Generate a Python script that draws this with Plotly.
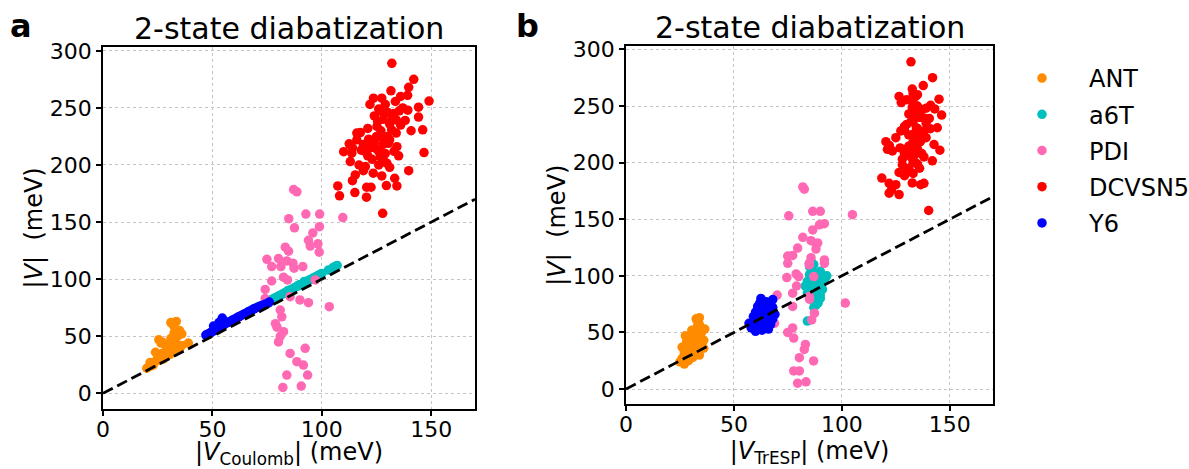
import plotly.graph_objects as go

FONT = "DejaVu Sans"

series_names = ["ANT", "a6T", "PDI", "DCVSN5", "Y6"]
series_colors = ["#FF8C00", "#00BFBF", "#FF69B4", "#FF0000", "#0000FF"]

# ---- ANT ----
ant_v = [22, 24, 25, 27, 28, 29, 30, 31, 32, 33, 34, 35, 36, 37, 38, 39, 40, 41, 42, 43,
         44, 45, 46, 47, 48, 50, 52, 53, 55, 57, 60, 62, 63, 44, 36]
ant_coulomb = [20, 22, 23, 21.5, 24, 26, 27.5, 25, 28, 29, 30.5, 27, 31, 33, 32, 35, 29, 34, 36, 30,
               39, 27, 33, 25.5, 31, 34, 36, 32.5, 35, 33, 32, 31, 33.5, 26.5, 24]
ant_tresp = [27, 25, 29, 26, 31, 28, 34, 30, 27, 33, 29, 31, 36, 26, 32, 35, 30, 28, 33, 36,
             31, 34, 29, 27.5, 32, 35, 30.5, 36.5, 33, 34, 33, 32.5, 34, 30, 33]

# ---- a6T ----
a6t_v = [60, 72, 74, 76, 79, 80, 80, 82, 83, 84, 85, 86, 87, 88, 89, 90, 90, 91, 92, 93,
         94, 95, 95, 96, 97, 98, 98, 99, 100, 101, 102, 103, 104, 105, 108, 110, 111, 112]
a6t_coulomb = [55, 67, 69, 71, 74, 75, 75.5, 77, 78, 79, 80, 81, 82, 83, 84, 84.5, 85, 86, 87, 88,
               89, 89.5, 90, 91, 92, 92, 93, 94, 95, 96, 97, 98, 99, 100, 103, 105, 106, 107]
a6t_tresp = [84, 87, 88, 89, 86, 88, 90, 85, 90, 87, 84, 89, 86, 91, 85, 88, 84.5, 83, 87, 90,
             86, 84, 91, 88, 92, 86, 85.5, 89, 93, 85, 88, 87, 90, 86, 85, 87, 85, 86]

# ---- PDI ----
pdi_v = [178.5, 176.5, 157, 157, 153, 154, 146, 145, 140.5, 134, 131, 129, 128, 124.5, 123.6, 117.4,
         118, 116, 114, 111, 111, 109.6, 111, 98.4, 101.7, 99.3, 91, 84.7, 81.8, 79.4, 75.9, 99.3,
         73, 67, 61, 54, 83, 58, 45, 50, 39.4, 35, 27.7, 24.8, 16, 16, 5.2, 6.4]
pdi_coulomb = [87.1, 88.6, 92.7, 99.0, 84.9, 109.6, 98.9, 87.5, 95.9, 93.9, 98.2, 94.7, 83.3, 84.8, 98.8, 74.9,
               80.2, 84.0, 86.8, 77.1, 81.3, 87.3, 91.3, 77.1, 82.5, 84.3, 74.1, 85.5, 90.0, 93.9, 103.4, 97.0,
               81.0, 81.7, 78.8, 82.5, 74.1, 79.5, 80.2, 81.0, 92.4, 85.5, 88.6, 91.6, 93.5, 84.0, 82.2, 90.6]
pdi_tresp = [81.9, 82.6, 86.5, 90.0, 75.4, 104.9, 91.9, 89.6, 86.5, 81.9, 85.7, 88.8, 88.0, 79.5, 88.0, 74.9,
             77.2, 85.7, 91.9, 74.9, 84.9, 84.9, 91.9, 74.5, 78.8, 80.0, 79.0, 77.2, 84.9, 85.0, 101.6, 87.0,
             77.2, 87.3, 86.0, 77.2, 70.0, 68.8, 77.7, 74.9, 83.1, 82.6, 80.3, 86.9, 77.7, 80.3, 79.5, 83.4]

# ---- DCVSN5 ----
dcv_v = [289, 275, 265, 268, 261, 260, 256, 258.5, 258.5, 253, 249, 255.6, 250.6, 248, 246, 247.4,
         242, 239.5, 239, 238, 230.8, 230, 228.4, 228, 233.7, 230.8, 222.6, 224.4, 218.5, 219, 211.7,
         210.3, 211.7, 214.7, 216, 210.9, 208, 203, 207.4, 201.6, 198.6, 192.8, 191.3, 195, 186.3,
         190.4, 188.4, 181.7, 181.7, 182, 180.5, 180.5, 173, 175.8, 171.8, 157.7,
         215, 220, 212, 218, 225, 230, 225, 210, 222, 205, 200, 208, 213, 200, 195, 240, 245, 235,
         228, 250, 236, 240, 243, 247, 253, 222, 215, 212, 198, 232, 218, 205]
dcv_coulomb = [132, 142, 131.6, 139.7, 139.2, 136, 149, 123.6, 127.4, 122, 126, 133.6, 144.2, 139.3, 130.2, 135.4,
               144.2, 134, 138.1, 125.5, 146.1, 140.8, 117.6, 116, 125.2, 131.9, 121.4, 127.4, 112.5, 130.4, 110,
               113.7, 119.9, 124.4, 134.3, 146.7, 135.1, 113, 126.7, 129.7, 119.9, 123.5, 115.3, 139.7, 114,
               127.4, 133.3, 107.3, 134.3, 129.5, 120.5, 122.5, 108.1, 115.1, 120.4, 127.8,
               122, 124, 126, 128, 125, 127, 130, 129, 131, 123, 126, 121, 118, 117, 119, 132, 133, 136,
               134, 137, 131, 128, 124, 127, 129, 116, 114, 133, 131, 121, 119, 128]
dcv_tresp = [132, 142, 132.6, 137.7, 133, 135, 145, 126.5, 134.2, 127.5, 132.6, 130, 141.1, 139, 136, 143,
             146.2, 138, 140.5, 133.4, 144.2, 141, 129, 127.3, 130, 134.5, 135, 131, 120.4, 136.5, 121.1,
             123.4, 133, 131.1, 142.7, 145.4, 137, 128, 134, 141.9, 135, 130.3, 126.5, 136, 118.5,
             133, 129, 121.9, 138, 132.6, 125, 136.5, 121.9, 123, 126.5, 140.2,
             132, 134, 130, 136, 133, 135, 137, 131, 139, 132, 134, 129, 127, 133, 131, 137, 134, 139,
             138, 135, 132, 136, 131, 137, 133, 125, 122, 135, 128, 129, 133, 138]

# ---- Y6 ----
y6_v = [51, 52, 53, 54, 55, 56, 57, 58, 59, 60, 61, 62, 63, 64, 65, 66, 66, 67, 68, 69,
        70, 71, 72, 73, 74, 75, 76, 77, 78, 79, 64, 62, 59, 80]
y6_coulomb = [47, 48, 49, 50, 51, 51.5, 52.5, 53.5, 54, 55, 56, 57, 58, 59, 60, 54.5, 61, 62, 63, 64,
              65, 66, 67, 68, 69, 70, 71.5, 72.5, 74, 75.5, 55, 53, 50.5, 76]
y6_tresp = [60, 63, 66, 58, 61, 64, 67, 57, 62, 65, 60, 68, 63, 59, 66, 62, 69, 64, 60, 67,
            62, 65, 68, 61, 64, 67, 62, 65, 63, 68, 64, 61, 66, 62.5]

# ---- reference line |V| = |V_model| ----
diag = [0, 170]

xtick_vals = [0, 50, 100, 150]
ytick_vals = [0, 50, 100, 150, 200, 250, 300]

all_v = [ant_v, a6t_v, pdi_v, dcv_v, y6_v]
all_coulomb = [ant_coulomb, a6t_coulomb, pdi_coulomb, dcv_coulomb, y6_coulomb]
all_tresp = [ant_tresp, a6t_tresp, pdi_tresp, dcv_tresp, y6_tresp]

fig = go.Figure()
for name, col, v, xc, xt in zip(series_names, series_colors, all_v, all_coulomb, all_tresp):
    fig.add_trace(go.Scatter(x=xc, y=v, mode="markers", name=name, legendgroup=name,
                             marker=dict(color=col, size=9.5, line=dict(width=0)),
                             xaxis="x", yaxis="y", showlegend=True))
    fig.add_trace(go.Scatter(x=xt, y=v, mode="markers", name=name, legendgroup=name,
                             marker=dict(color=col, size=9.5, line=dict(width=0)),
                             xaxis="x2", yaxis="y2", showlegend=False))

for xa, ya in (("x", "y"), ("x2", "y2")):
    fig.add_trace(go.Scatter(x=diag, y=diag, mode="lines", showlegend=False,
                             line=dict(color="black", width=2.8, dash="11px,5px"),
                             xaxis=xa, yaxis=ya))

W, H = 1189, 469
axis_common = dict(showline=True, mirror=True, linecolor="black", linewidth=1.5,
                   ticks="outside", ticklen=5, tickwidth=1.5, tickcolor="black",
                   showgrid=True, gridcolor="#c4c4c4", gridwidth=1, griddash="dot",
                   zeroline=False, tickfont=dict(size=22, color="black", family=FONT))

fig.update_layout(
    template="none",
    width=W, height=H,
    margin=dict(l=0, r=0, t=0, b=0, autoexpand=False),
    paper_bgcolor="white", plot_bgcolor="white",
    font=dict(family=FONT, color="black"),
    xaxis=dict(domain=[103 / W, 475 / W], range=[0, 170], tickvals=xtick_vals, anchor="y",
               ticklabelstandoff=-5,
               title=dict(text="|<i>V</i><sub>Coulomb</sub>| (meV)", font=dict(size=24), standoff=5),
               **axis_common),
    yaxis=dict(domain=[1 - 409 / H, 1 - 46.7 / H], range=[-13.7, 303.6], tickvals=ytick_vals, anchor="x",
               title=dict(text="|<i>V</i>|\u00a0\u00a0(meV)", font=dict(size=24)),
               **axis_common),
    xaxis2=dict(domain=[626 / W, 993 / W], range=[0, 170], tickvals=xtick_vals, anchor="y2",
                ticklabelstandoff=-5,
                title=dict(text="|<i>V</i><sub>TrESP</sub>| (meV)", font=dict(size=24), standoff=5),
                **axis_common),
    yaxis2=dict(domain=[1 - 404.3 / H, 1 - 46 / H], range=[-13.5, 303], tickvals=ytick_vals, anchor="x2",
                title=dict(text="|<i>V</i>|\u00a0\u00a0(meV)", font=dict(size=24)),
                **axis_common),
    legend=dict(x=995 / W, y=1 - 56 / H, xanchor="left", yanchor="top",
                font=dict(size=24, family=FONT, color="black"),
                bgcolor="rgba(0,0,0,0)", borderwidth=0, itemwidth=84, tracegroupgap=2),
    annotations=[
        dict(text="2-state diabatization", xref="x domain", yref="y domain", x=0.5, y=1,
             xanchor="center", yanchor="bottom", showarrow=False, yshift=-1,
             font=dict(size=30, family=FONT, color="black")),
        dict(text="2-state diabatization", xref="x2 domain", yref="y2 domain", x=0.5, y=1,
             xanchor="center", yanchor="bottom", showarrow=False, yshift=-1,
             font=dict(size=30, family=FONT, color="black")),
        dict(text="<b>a</b>", xref="paper", yref="paper", x=8 / W, y=1 - 26 / H,
             xanchor="left", yanchor="middle", showarrow=False,
             font=dict(size=32, family=FONT, color="black")),
        dict(text="<b>b</b>", xref="paper", yref="paper", x=514 / W, y=1 - 26 / H,
             xanchor="left", yanchor="middle", showarrow=False,
             font=dict(size=32, family=FONT, color="black")),
    ],
)

fig.write_html("out.html", config={"displayModeBar": False},
               post_script="document.body.style.margin='0';")
